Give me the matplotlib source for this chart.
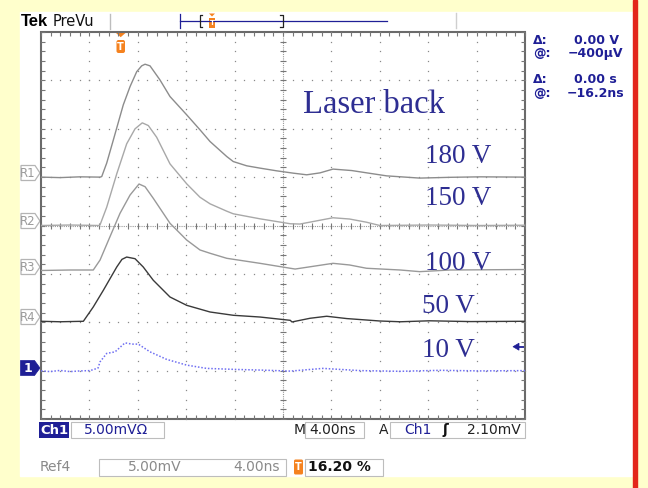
import numpy as np
import matplotlib
matplotlib.use('Agg')
import matplotlib.pyplot as plt
from matplotlib.patches import Rectangle, Polygon, FancyBboxPatch

# ---- reference waveforms (time in ns from left edge, amplitude in mV) ----
t_180 = [0, 1.57, 3.22, 4.88, 5.02, 5.43, 5.98, 6.80, 7.36, 7.91, 8.32, 8.60, 9.01, 9.83,
         10.66, 12.04, 13.14, 13.97, 15.35, 15.89, 17.0, 18.1, 19.48, 20.85, 21.96, 23.06,
         24.13, 25.68, 27.19, 28.57, 31.3, 33.8, 36.3, 40.0]
v_180 = [0.0, -0.05, 0.03, 0.0, 0.06, 1.45, 3.85, 7.47, 9.36, 10.9, 11.5, 11.67, 11.5, 10.05,
         8.33, 6.44, 4.89, 3.68, 2.13, 1.61, 1.17, 0.93, 0.65, 0.41, 0.24, 0.44,
         0.83, 0.68, 0.39, 0.13, -0.1, -0.02, 0.03, 0.0]

t_150 = [0, 2.40, 4.82, 4.88, 5.43, 6.26, 7.08, 7.77, 8.37, 8.87, 9.56, 10.66, 12.04, 13.14,
         13.97, 15.35, 15.89, 18.1, 19.48, 20.6, 21.4, 24.13, 25.5, 26.9, 28.0, 32.1, 36.3, 40.0]
v_150 = [0.0, 0.05, 0.0, 0.07, 1.89, 5.34, 8.44, 9.99, 10.61, 10.33, 9.12, 6.37, 4.31, 2.92,
         2.24, 1.48, 1.21, 0.69, 0.41, 0.18, 0.15, 0.80, 0.67, 0.34, 0.0, 0.05, 0.0, 0.03]

t_100 = [0, 2.40, 4.32, 4.88, 5.70, 6.53, 7.36, 8.10, 8.60, 9.28, 10.66, 12.04, 13.14, 13.97,
         15.35, 18.1, 20.6, 21.0, 24.13, 25.5, 26.9, 29.7, 31.3, 33.8, 40.0]
v_100 = [0.0, 0.05, 0.05, 1.08, 3.49, 5.91, 7.8, 8.94, 8.66, 7.46, 4.88, 3.15, 2.12, 1.78,
         1.26, 0.74, 0.23, 0.15, 0.74, 0.57, 0.23, 0.05, -0.12, 0.05, 0.1]

t_50 = [0, 1.57, 3.50, 4.32, 5.15, 6.26, 6.69, 7.08, 7.77, 8.45, 9.28, 10.66, 12.04, 13.97,
        15.89, 18.1, 20.6, 20.74, 22.23, 23.61, 25.27, 28.0, 29.7, 32.1, 35.5, 40.0]
v_50 = [0.0, -0.05, 0.0, 1.48, 3.2, 5.61, 6.4, 6.64, 6.47, 5.61, 4.24, 2.51, 1.65, 0.96,
        0.62, 0.44, 0.10, -0.07, 0.31, 0.52, 0.28, 0.03, -0.05, 0.05, -0.03, 0.0]

# live channel 1
t_10 = [0, 0.74, 1.57, 2.40, 3.22, 4.05, 4.71, 4.88, 5.43, 6.12, 6.94, 7.52, 8.04, 9.01,
        10.39, 12.04, 13.69, 16.17, 18.35, 20.6, 23.3, 26.4, 29.7, 33.0, 36.3, 40.0]
v_10 = [-0.02, -0.1, 0.02, -0.1, -0.03, 0.0, 0.26, 0.91, 1.78, 1.94, 2.87, 2.74, 2.74, 1.94,
        1.16, 0.57, 0.23, 0.12, 0.05, -0.05, 0.23, 0.0, -0.07, 0.03, -0.03, 0.0]

labels = ['180 V', '150 V', '100 V', '50 V', '10 V']
ref_names = ['R1', 'R2', 'R3', 'R4']
volts_per_div = 5.0   # mV/div
ns_per_div = 4.0

W, H = 648, 488
fig = plt.figure(figsize=(W / 100, H / 100), dpi=100)
fig.patch.set_facecolor('#ffffcc')

# pixel canvas for the bezel, readouts and status bar
bg = fig.add_axes([0, 0, 1, 1])
bg.set_xlim(0, W)
bg.set_ylim(H, 0)
bg.axis('off')

NAVY = '#1f1f96'
LBL = '#2e2e92'
ORANGE = '#f5821f'

bg.add_patch(Rectangle((20, 12), 613, 464, color='white', zorder=0))
bg.add_patch(Rectangle((633, 0), 4, H, color='#e3261a', zorder=0))

# screen: 10 x 8 divisions
GX0, GX1, GY0, GY1 = 41, 525, 32, 419
ax = fig.add_axes([GX0 / W, 1 - GY1 / H, (GX1 - GX0) / W, (GY1 - GY0) / H])
ax.set_xlim(0, 10 * ns_per_div)
ax.set_ylim(0, 8)
ax.axis('off')
ax.patch.set_alpha(0)

ymin = np.arange(0, 8.001, 0.2)
xmin = np.arange(0, 40.001, 0.8)
dot = dict(ls='none', marker='s', ms=0.9, mec='none', color='#8a8a8a', clip_on=False)
for k in range(1, 10):
    if k != 5:
        ax.plot(np.full_like(ymin, k * ns_per_div), ymin, **dot)
for k in range(1, 8):
    if k != 4:
        ax.plot(xmin, np.full_like(xmin, k), **dot)

# centre cross with minor ticks
ax.plot([20, 20], [0, 8], color='#9a9a9a', lw=0.8, ls=(0, (1, 1)))
ax.plot([0, 40], [4, 4], color='#9a9a9a', lw=0.8, ls=(0, (1, 1)))
ax.plot(np.full_like(ymin, 20), ymin, ls='none', marker='_', ms=5, mew=0.8, color='#777777')
ax.plot(xmin, np.full_like(xmin, 4), ls='none', marker='|', ms=5, mew=0.8, color='#777777')

# frame with inward ticks
ax.add_patch(Rectangle((0, 0), 40, 8, fill=False, ec='#6a6a6a', lw=1.5, clip_on=False))
tk = dict(ls='none', ms=3, mew=0.8, color='#777777', clip_on=False)
ax.plot(xmin, np.full_like(xmin, 8), marker=3, **tk)
ax.plot(xmin, np.zeros_like(xmin), marker=2, **tk)
ax.plot(np.zeros_like(ymin), ymin, marker=1, **tk)
ax.plot(np.full_like(ymin, 40), ymin, marker=0, **tk)

# traces, each on its own ground level (divisions)
refs = [(t_180, v_180, 5.0, '#8c8c8c'),
        (t_150, v_150, 4.0, '#a8a8a8'),
        (t_100, v_100, 3.07, '#999999'),
        (t_50, v_50, 2.02, '#3a3a3a')]
for t, v, off, c in refs:
    ax.plot(t, off + np.array(v) / volts_per_div, color=c, lw=1.0, zorder=3,
            solid_joinstyle='round')
ax.plot(t_10, 1.0 + np.array(v_10) / volts_per_div, color='#6f6ff2', lw=1.1,
        ls=(0, (1, 1.2)), zorder=3)

# blue annotations
serif = ['Liberation Serif', 'DejaVu Serif']
ax.text(303, 113.3, 'Laser back', transform=bg.transData, family=serif, fontsize=23.5,
        color=LBL, va='baseline', zorder=5)
for s, yb in zip(labels, [163.3, 205, 270, 313.3, 357]):
    x0 = 425 if len(s) == 5 else 422.5
    ax.text(x0, yb, s, transform=bg.transData, family=serif, fontsize=19.5,
            color=LBL, va='baseline', zorder=5)

# ground markers
for name, yc in zip(ref_names, [173, 221, 267, 317]):
    bg.add_patch(Polygon([(21, yc - 7.5), (35, yc - 7.5), (40, yc), (35, yc + 7.5), (21, yc + 7.5)],
                         closed=True, fc='white', ec='#b4b4b4', lw=0.9))
    bg.text(28, yc + 0.5, name, fontsize=8.5, color='#9a9a9a', ha='center', va='center')
bg.add_patch(Polygon([(20.5, 360.5), (34.5, 360.5), (40, 368), (34.5, 375.5), (20.5, 375.5)],
                     closed=True, fc=NAVY, ec=NAVY, lw=0.5))
bg.text(28, 368.5, '1', fontsize=9, color='white', weight='bold', ha='center', va='center')

# channel 1 level arrow
bg.add_patch(Polygon([(513, 346.7), (519, 343.2), (519, 350.2)], closed=True, fc=NAVY, ec=NAVY, lw=0.5))
bg.plot([518, 525], [346.7, 346.7], color=NAVY, lw=1.3)

# trigger position marker
bg.add_patch(Polygon([(115.5, 32.5), (126, 32.5), (120.7, 37.2)], closed=True, fc=ORANGE, ec='none'))
bg.add_patch(FancyBboxPatch((116.5, 40), 8.5, 13, boxstyle='round,pad=0,rounding_size=2',
                            fc=ORANGE, ec='none'))
bg.text(120.7, 46.5, 'T', fontsize=7, weight='bold', color='white', ha='center', va='center')

# top bar
bg.text(21, 26.5, 'Tek', family='Liberation Sans', weight='bold', fontsize=12, va='baseline')
bg.text(53, 26.5, 'PreVu', family='DejaVu Sans', fontsize=10.5, va='baseline', color='#111111')
bg.plot([110, 110], [14, 29], color='#bdbdbd', lw=1)
bg.plot([456, 456], [13, 28], color='#cfcfcf', lw=1)
bg.plot([180, 387], [20.5, 20.5], color=NAVY, lw=0.9)
bg.plot([180, 180], [14, 28], color=NAVY, lw=0.9)
bg.plot([202, 199.5, 199.5, 202], [15, 15, 27, 27], color='#222222', lw=0.9)
bg.plot([280, 282.5, 282.5, 280], [15, 15, 27, 27], color='#222222', lw=0.9)
bg.add_patch(Polygon([(209, 13.5), (215, 13.5), (212, 16.5)], closed=True, fc=ORANGE, ec='none'))
bg.add_patch(Rectangle((209, 18), 6, 9.5, fc=ORANGE, ec='none'))
bg.text(212, 23, 'T', fontsize=5, weight='bold', color='white', ha='center', va='center')

# cursor readouts
ro = dict(family='DejaVu Sans', weight='bold', fontsize=9, color=NAVY, va='center')
for y, a, b, xb in [(40.7, 'Δ:', '0.00 V', 574), (53.3, '@:', '\u2212400µV', 568),
                    (79.3, 'Δ:', '0.00 s', 574), (93.3, '@:', '\u221216.2ns', 567)]:
    bg.text(533, y, a, **ro)
    bg.text(xb, y, b, **ro)

# status bar
st = dict(family='DejaVu Sans', fontsize=10, va='center')
bg.add_patch(Rectangle((39.3, 422), 30, 15.5, fc=NAVY, ec='none'))
bg.text(54.3, 430, 'Ch1', family='DejaVu Sans', weight='bold', fontsize=9.5, color='white',
        ha='center', va='center')
bg.add_patch(Rectangle((70.7, 422), 93.3, 15.5, fc='white', ec='#bdbdbd', lw=0.8))
bg.text(84, 430, '5.00mVΩ', color=NAVY, **st)
bg.text(294, 430, 'M', color='#222222', **st)
bg.add_patch(Rectangle((305, 422), 59, 15.5, fc='white', ec='#bdbdbd', lw=0.8))
bg.text(309, 430, '4.00ns', color='#222222', **st)
bg.text(379, 430, 'A', color='#222222', **st)
bg.add_patch(Rectangle((390, 422), 135, 15.5, fc='white', ec='#bdbdbd', lw=0.8))
bg.text(404, 430, 'Ch1', color=NAVY, **st)
bg.text(443, 430, 'ʃ', family='DejaVu Sans', weight='bold', fontsize=10, color='#111111', va='center')
bg.text(467, 430, '2.10mV', color='#222222', **st)

bg.text(40, 466.7, 'Ref4', color='#8a8a8a', **st)
bg.add_patch(Rectangle((99, 458.5), 187, 17, fc='white', ec='#bdbdbd', lw=0.8))
bg.text(128, 466.7, '5.00mV', color='#8a8a8a', **st)
bg.text(233, 466.7, '4.00ns', color='#8a8a8a', **st)
bg.add_patch(FancyBboxPatch((294, 459.5), 9, 15, boxstyle='round,pad=0,rounding_size=1.5',
                            fc=ORANGE, ec='none'))
bg.text(298.5, 467, 'T', fontsize=7, weight='bold', color='white', ha='center', va='center')
bg.add_patch(Rectangle((305, 458.5), 78, 17, fc='white', ec='#bdbdbd', lw=0.8))
bg.text(308, 466.7, '16.20 %', family='DejaVu Sans', weight='bold', fontsize=10,
        color='#111111', va='center')

fig.savefig('out.png', dpi=100, facecolor=fig.get_facecolor())
